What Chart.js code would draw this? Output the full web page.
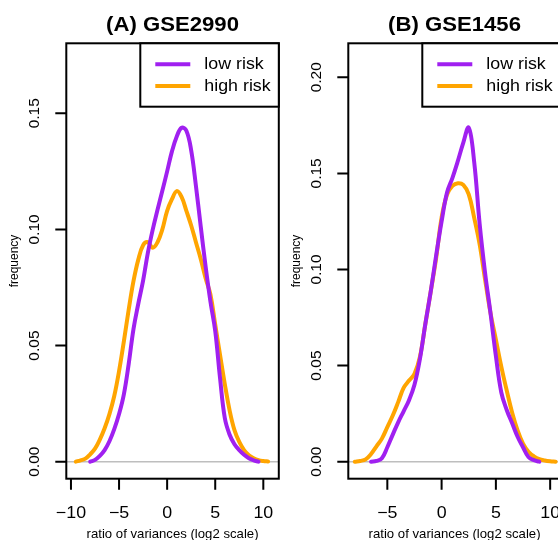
<!DOCTYPE html>
<html>
<head>
<meta charset="utf-8">
<script src="https://cdn.jsdelivr.net/npm/chart.js@4.4.0/dist/chart.umd.min.js"></script>
<style>
  html, body { margin:0; padding:0; background:#fff; overflow:hidden; width:558px; height:540px; }
  .panel { position:absolute; top:0; width:282px; height:540px; }
</style>
</head>
<body>
<div class="panel" style="left:0"><canvas id="chartA" width="282" height="540"></canvas></div>
<div class="panel" style="left:282px"><canvas id="chartB" width="282" height="540"></canvas></div>
<script>
// ---- data ----
const seriesNames = ["low risk", "high risk"];

// panel A : GSE2990
const xA = [-10, -9.5, -9, -8.5, -8, -7.5, -7, -6.5, -6, -5.5, -5, -4.5, -4, -3.5, -3, -2.5, -2, -1.5, -1, -0.5,
  0, 0.5, 1, 1.5, 2, 2.5, 3, 3.5, 4, 4.5, 5, 5.5, 6, 6.5, 7, 7.5, 8, 8.5, 9, 9.5, 10, 10.5, 11];
const lowA = [null, null, null, null, 0.0000, 0.0008, 0.0025, 0.0050, 0.0088, 0.0140, 0.0205, 0.0290, 0.0420, 0.0571, 0.0680, 0.0780, 0.0900, 0.0999, 0.1085, 0.1166,
  0.1250, 0.1336, 0.1400, 0.1438, 0.1425, 0.1340, 0.1185, 0.1010, 0.0840, 0.0690, 0.0563, 0.0360, 0.0187, 0.0116, 0.0075, 0.0050, 0.0030, 0.0015, 0.0006, 0.0000, null, null, null];
const highA = [null, 0.0000, 0.0006, 0.0013, 0.0032, 0.0056, 0.0095, 0.0144, 0.0205, 0.0283, 0.0390, 0.0518, 0.0654, 0.0777, 0.0870, 0.0932, 0.0945, 0.0921, 0.0945, 0.1000,
  0.1080, 0.1130, 0.1165, 0.1140, 0.1080, 0.1017, 0.0944, 0.0872, 0.0790, 0.0720, 0.0590, 0.0460, 0.0333, 0.0220, 0.0136, 0.0085, 0.0050, 0.0028, 0.0015, 0.0007, 0.0003, 0.0001, null];
const xTicksA = [-10, -5, 0, 5, 10];
const xTickLabelsA = ["\u221210", "\u22125", "0", "5", "10"];
const yTicksA = [0, 0.05, 0.10, 0.15];
const yTickLabelsA = ["0.00", "0.05", "0.10", "0.15"];

// panel B : GSE1456
const xB = [-8, -7.5, -7, -6.5, -6, -5.5, -5, -4.5, -4, -3.5, -3, -2.5, -2, -1.5, -1, -0.5,
  0, 0.5, 1, 1.5, 2, 2.5, 3, 3.5, 4, 4.5, 5, 5.5, 6, 6.5, 7, 7.5, 8, 8.5, 9, 9.5, 10, 10.5, 11];
const lowB = [null, null, null, 0.0000, 0.0004, 0.0018, 0.0075, 0.0141, 0.0205, 0.0262, 0.0320, 0.0400, 0.0534, 0.0716, 0.0886, 0.1074,
  0.1250, 0.1400, 0.1477, 0.1565, 0.1660, 0.1738, 0.1560, 0.1240, 0.0985, 0.0775, 0.0550, 0.0360, 0.0269, 0.0200, 0.0130, 0.0075, 0.0024, 0.0008, 0.0000, null, null, null, null];
const highB = [0.0000, 0.0004, 0.0012, 0.0040, 0.0080, 0.0120, 0.0180, 0.0240, 0.0310, 0.0384, 0.0422, 0.0457, 0.0545, 0.0716, 0.0886, 0.1060,
  0.1270, 0.1390, 0.1435, 0.1449, 0.1440, 0.1391, 0.1270, 0.1132, 0.0950, 0.0775, 0.0635, 0.0495, 0.0370, 0.0255, 0.0163, 0.0094, 0.0052, 0.0028, 0.0013, 0.0006, 0.0002, 0.0000, null];
const xTicksB = [-5, 0, 5, 10];
const xTickLabelsB = ["\u22125", "0", "5", "10"];
const yTicksB = [0, 0.05, 0.10, 0.15, 0.20];
const yTickLabelsB = ["0.00", "0.05", "0.10", "0.15", "0.20"];

const colors = ["#A020F0", "#FFA500"];
const FONT = "'Liberation Sans', Arial, sans-serif";
const SX = 1.08; // the figure is a bit wider than tall

function stretchText(ctx, s, x, y, sx) {
  ctx.save();
  ctx.translate(x, y);
  ctx.scale(sx, 1);
  ctx.fillText(s, 0, 0);
  ctx.restore();
}

// R style box, axes, title and legend
const rStyle = {
  id: 'rStyle',
  beforeDatasetsDraw(chart) {
    const { ctx, chartArea: a, scales: { y } } = chart;
    const y0 = y.getPixelForValue(0);
    ctx.save();
    ctx.strokeStyle = '#bebebe';
    ctx.lineWidth = 1.5;
    ctx.beginPath(); ctx.moveTo(a.left, y0); ctx.lineTo(a.right, y0); ctx.stroke();
    ctx.restore();
  },
  afterDatasetsDraw(chart, args, o) {
    const { ctx, chartArea: a, scales: { x, y } } = chart;
    ctx.save();
    ctx.strokeStyle = '#000';
    ctx.fillStyle = '#000';
    ctx.lineWidth = 2;
    ctx.strokeRect(a.left, a.top, a.right - a.left, a.bottom - a.top);

    // x axis
    ctx.beginPath();
    o.xTicks.forEach(v => {
      const px = x.getPixelForValue(v);
      ctx.moveTo(px, a.bottom); ctx.lineTo(px, a.bottom + 11);
    });
    ctx.stroke();
    ctx.font = '16.5px ' + FONT;
    ctx.textAlign = 'center';
    ctx.textBaseline = 'alphabetic';
    o.xTicks.forEach((v, i) => stretchText(ctx, o.xLabels[i], x.getPixelForValue(v), 518, SX));
    ctx.font = '12.2px ' + FONT;
    stretchText(ctx, 'ratio of variances (log2 scale)', (a.left + a.right) / 2, 538, SX);

    // y axis
    ctx.beginPath();
    o.yTicks.forEach(v => {
      const py = y.getPixelForValue(v);
      ctx.moveTo(a.left - 11, py); ctx.lineTo(a.left, py);
    });
    ctx.stroke();
    ctx.font = '15.5px ' + FONT;
    ctx.textBaseline = 'middle';
    o.yTicks.forEach((v, i) => {
      ctx.save();
      ctx.translate(35, y.getPixelForValue(v));
      ctx.rotate(-Math.PI / 2);
      ctx.fillText(o.yLabels[i], 0, 0);
      ctx.restore();
    });
    ctx.font = '12px ' + FONT;
    ctx.save();
    ctx.translate(15, (a.top + a.bottom) / 2);
    ctx.rotate(-Math.PI / 2);
    ctx.fillText('frequency', 0, 0);
    ctx.restore();

    // title
    ctx.font = 'bold 20.5px ' + FONT;
    ctx.textBaseline = 'alphabetic';
    stretchText(ctx, o.title, (a.left + a.right) / 2, 31, SX);

    // legend
    const lx = a.right - 138.5, ly = a.top, lh = 63.4;
    ctx.fillStyle = '#fff';
    ctx.fillRect(lx, ly, a.right - lx, lh);
    ctx.strokeRect(lx, ly, a.right - lx, lh);
    ctx.font = '16.5px ' + FONT;
    ctx.textAlign = 'left';
    ctx.textBaseline = 'middle';
    chart.data.datasets.forEach((ds, i) => {
      const yy = ly + 21 + i * 21.7;
      ctx.strokeStyle = ds.borderColor;
      ctx.lineWidth = 4;
      ctx.beginPath(); ctx.moveTo(lx + 15, yy); ctx.lineTo(lx + 50, yy); ctx.stroke();
      ctx.fillStyle = '#000';
      stretchText(ctx, ds.label, lx + 64, yy, SX);
    });
    ctx.restore();
  }
};

function makePanel(id, xs, low, high, xRange, yRange, opts) {
  const series = [low, high];
  return new Chart(document.getElementById(id), {
    type: 'line',
    data: {
      datasets: series.map((vals, i) => ({
        label: seriesNames[i],
        data: xs.map((xv, j) => ({ x: xv, y: vals[j] })),
        borderColor: colors[i],
        borderWidth: 4,
        borderJoinStyle: 'round',
        borderCapStyle: 'round',
        pointRadius: 0,
        tension: 0.4,
        spanGaps: false,
        fill: false
      }))
    },
    options: {
      responsive: false,
      animation: false,
      devicePixelRatio: 1,
      layout: { padding: { left: 66.3, right: 3.2, top: 43.3, bottom: 61.3 } },
      scales: {
        x: { type: 'linear', min: xRange[0], max: xRange[1], display: false },
        y: { type: 'linear', min: yRange[0], max: yRange[1], display: false }
      },
      plugins: {
        legend: { display: false },
        tooltip: { enabled: false },
        rStyle: opts
      }
    },
    plugins: [rStyle]
  });
}

makePanel('chartA', xA, lowA, highA, [-10.485, 11.61], [-0.00732, 0.18013],
  { title: '(A) GSE2990', xTicks: xTicksA, xLabels: xTickLabelsA, yTicks: yTicksA, yLabels: yTickLabelsA });
makePanel('chartB', xB, lowB, highB, [-8.595, 10.98], [-0.00885, 0.21768],
  { title: '(B) GSE1456', xTicks: xTicksB, xLabels: xTickLabelsB, yTicks: yTicksB, yLabels: yTickLabelsB });
</script>
</body>
</html>
